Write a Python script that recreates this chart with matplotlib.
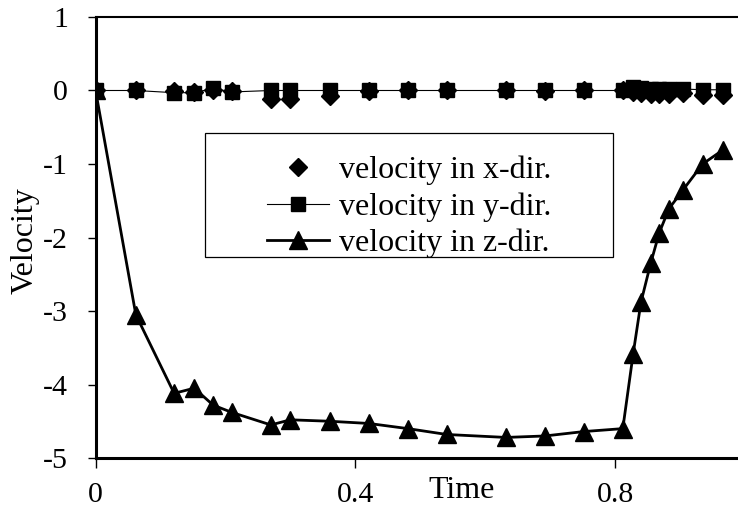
import matplotlib.pyplot as plt
from matplotlib.patches import Rectangle

plt.rcParams['font.family'] = ['Liberation Serif', 'DejaVu Serif']

time = [0, 0.062, 0.121, 0.152, 0.181, 0.21, 0.27, 0.30, 0.361, 0.421,
        0.481, 0.541, 0.632, 0.692, 0.752, 0.812, 0.828, 0.840, 0.855,
        0.868, 0.883, 0.905, 0.935, 0.966]
vel_x = [0, 0, -0.01, -0.02, 0.0, -0.01, -0.12, -0.12, -0.07, -0.01,
         0, 0, 0, -0.01, 0, 0, -0.02, -0.04, -0.05, -0.05, -0.05, -0.04,
         -0.06, -0.06]
vel_y = [0, 0, -0.03, -0.03, 0.03, -0.02, 0, 0, 0, 0,
         0, 0, 0, 0, 0, 0, 0.05, 0.03, 0.02, 0.02, 0.02, 0.02, 0.01, 0.01]
vel_z = [0, -3.05, -4.12, -4.05, -4.28, -4.38, -4.55, -4.48, -4.5, -4.53,
         -4.6, -4.68, -4.72, -4.7, -4.64, -4.6, -3.58, -2.88, -2.35,
         -1.94, -1.61, -1.35, -1.0, -0.81]

xticks = [0, 0.4, 0.8]
yticks = [1, 0, -1, -2, -3, -4, -5]

fig = plt.figure(figsize=(7.38, 5.18), dpi=100)
ax = fig.add_axes([0.1295, 0.1158, 0.8798, 0.8514])

ax.plot(time, vel_x, linestyle='none', marker='D', markersize=9,
        color='black', label='velocity in x-dir.', zorder=2)
ax.plot(time, vel_y, linestyle='-', linewidth=0.8, marker='s', markersize=10,
        color='black', label='velocity in y-dir.', zorder=3)
ax.plot(time, vel_z, linestyle='-', linewidth=2.0, marker='^', markersize=13,
        color='black', label='velocity in z-dir.', zorder=4)

ax.set_xlim(0, 1.0)
ax.set_ylim(-5, 1)
ax.set_xticks(xticks)
ax.set_xticklabels(['0', '0.4', '0.8'])
ax.set_yticks(yticks)
ax.set_yticklabels([str(v) for v in yticks])
ax.tick_params(axis='both', labelsize=21.5, direction='out', color='black')
ax.tick_params(axis='x', length=7, width=1, pad=10)
ax.tick_params(axis='y', length=6, width=1, pad=14)

ax.spines['right'].set_visible(False)
ax.spines['left'].set_linewidth(2.2)
ax.spines['bottom'].set_linewidth(2.2)
ax.spines['top'].set_linewidth(1.5)

ax.text(0.564, -0.074, 'Time', transform=ax.transAxes, fontsize=23,
        ha='center', va='center')
ax.text(-0.108, 0.494, 'Velocity', transform=ax.transAxes, fontsize=23,
        ha='center', va='center', rotation=90)

# legend frame (wider than its text, as in the original)
ax.add_patch(Rectangle((0.1685, 0.456), 0.6285, 0.281, transform=ax.transAxes,
                       facecolor='white', edgecolor='black', linewidth=0.9,
                       zorder=5))
leg = ax.legend(loc='upper left', bbox_to_anchor=(0.264, 0.685),
                fontsize=23, frameon=False, handlelength=1.95,
                handletextpad=0.3, labelspacing=0.22, borderpad=0,
                borderaxespad=0)
leg.set_zorder(6)

plt.savefig('out.png', dpi=100)
